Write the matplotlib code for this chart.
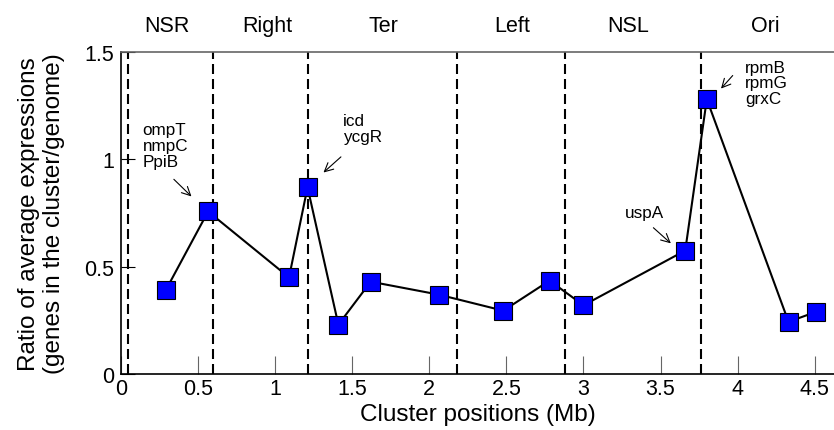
import numpy as np
import matplotlib
matplotlib.use('Agg')
import matplotlib.pyplot as plt

plt.rcParams.update({
    'font.family': ['Liberation Sans', 'DejaVu Sans'],
    'font.size': 15.5,
})

# cluster positions (Mb) and expression ratios
positions = [0.29, 0.565, 1.09, 1.21, 1.41, 1.62, 2.06, 2.48, 2.78, 3.00, 3.66, 3.80, 4.33, 4.51]
ratios = [0.39, 0.757, 0.45, 0.87, 0.23, 0.43, 0.37, 0.295, 0.435, 0.32, 0.575, 1.28, 0.243, 0.29]

# macrodomain boundaries and names
boundaries = [0.045, 0.60, 1.21, 2.18, 2.88, 3.76]
region_names = ['NSR', 'Right', 'Ter', 'Left', 'NSL', 'Ori']
region_centers = [0.30, 0.95, 1.70, 2.54, 3.29, 4.18]

# gene annotations: text, text position, arrow start, arrow end
ann_text = ['ompT\nnmpC\nPpiB', 'icd\nycgR', 'uspA', 'rpmB\nrpmG\ngrxC']
ann_xy_text = [(0.14, 1.175), (1.44, 1.215), (3.27, 0.785), (4.05, 1.465)]
ann_arrow_from = [(0.33, 0.916), (1.44, 1.02), (3.44, 0.69), (3.98, 1.40)]
ann_arrow_to = [(0.47, 0.818), (1.30, 0.93), (3.58, 0.60), (3.88, 1.32)]

fig = plt.figure(figsize=(8.34, 4.31), dpi=100)
ax = fig.add_axes([121/834, 56/431, (834-121)/834, (375-53)/431])

for b in boundaries:
    ax.axvline(b, color='black', linestyle=(0, (4.8, 2.4)), linewidth=1.5, zorder=1)

ax.plot(positions, ratios, color='black', linewidth=1.5, marker='s', markersize=13,
        markerfacecolor='#0000ff', markeredgecolor='black', markeredgewidth=0.8, zorder=3)

for name, c in zip(region_names, region_centers):
    ax.text(c, 1.625, name, ha='center', va='center', fontsize=15.5)

for t, xt, a0, a1 in zip(ann_text, ann_xy_text, ann_arrow_from, ann_arrow_to):
    ax.text(xt[0], xt[1], t, ha='left', va='top', fontsize=12.3, linespacing=1.08)
    ax.annotate('', xy=a1, xytext=a0,
                arrowprops=dict(arrowstyle='->', color='black', lw=0.8))

ax.set_xlim(0, 4.625)
ax.set_ylim(0, 1.5)
ax.set_xticks(np.arange(0, 4.51, 0.5))
ax.set_xticklabels(['0', '0.5', '1', '1.5', '2', '2.5', '3', '3.5', '4', '4.5'])
ax.set_yticks([0, 0.5, 1, 1.5])
ax.set_yticklabels(['0', '0.5', '1', '1.5'])
ax.tick_params(axis='x', direction='in', length=13, color='#666666', labelsize=15.5, pad=3)
ax.tick_params(axis='y', direction='in', length=10, color='black', labelsize=15.5, pad=5)

ax.spines['right'].set_visible(False)
ax.spines['top'].set_color('#666666')
ax.spines['top'].set_linewidth(1.2)
ax.spines['left'].set_linewidth(1.2)
ax.spines['bottom'].set_linewidth(1.2)

ax.set_xlabel('Cluster positions (Mb)', fontsize=17.5, labelpad=3)
ax.set_ylabel('Ratio of average expressions\n(genes in the cluster/genome)', fontsize=17.5,
              linespacing=1.15, labelpad=14)

fig.savefig('out.png', dpi=100)
